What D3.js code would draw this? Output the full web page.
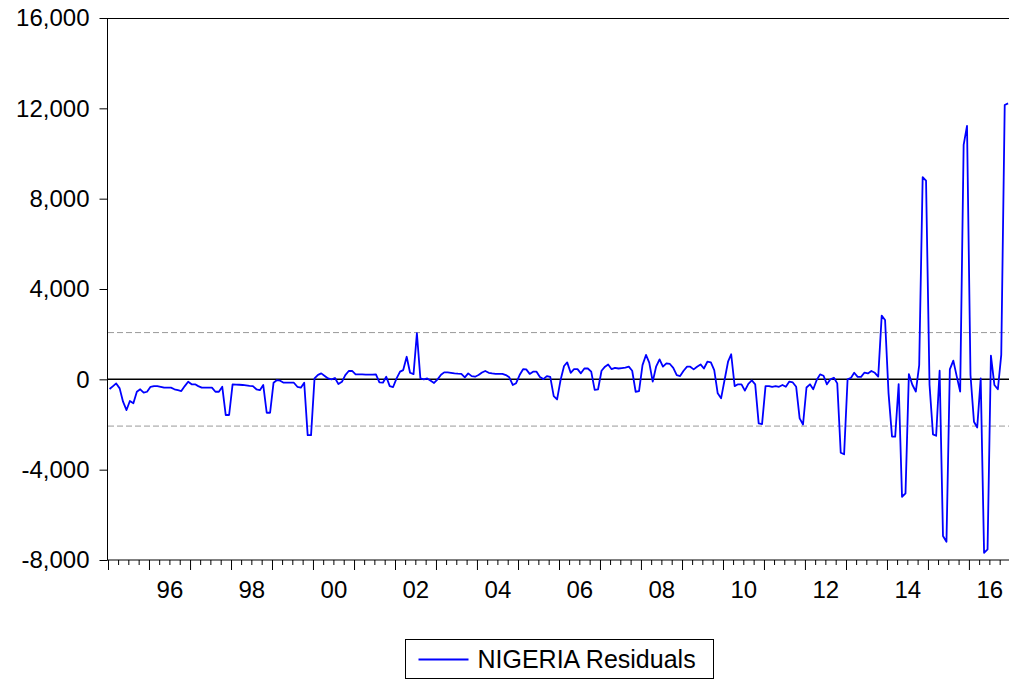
<!DOCTYPE html>
<html lang="en">

<head>
    <meta charset="UTF-8">
    <script src="https://cdnjs.cloudflare.com/ajax/libs/d3/7.8.5/d3.min.js" type="text/JavaScript"></script>
    <title>NIGERIA Residuals</title>
    <style>
        body { margin: 0; background: #fff; }
        svg { display: block; font-family: "Liberation Sans", Arial, Helvetica, sans-serif; }
    </style>
</head>

<body>
    <svg width="1009" height="679"></svg>
    <script>

        // monthly residuals, 1995M01 .. 2016M12
        var startYear = 1995;
        var residuals = [
            -430, -300, -180, -400, -990, -1360, -960, -1060, -550, -440, -590, -550,
            -330, -300, -300, -330, -370, -370, -370, -440, -480, -520, -300, -105,
            -220, -220, -300, -370, -370, -370, -370, -550, -550, -330, -1580, -1580,
            -220, -230, -240, -250, -270, -290, -300, -440, -480, -250, -1480, -1480,
            -150, -30, -60, -150, -150, -150, -150, -330, -370, -150, -2470, -2470,
            40, 200, 265, 150, 40, 0, 60, -210, -110, 190, 370, 370,
            220, 220, 220, 210, 210, 210, 220, -130, -150, 115, -300, -340,
            40, 340, 410, 1000, 290, 230, 2040, 40, 0, 40, -60, -160,
            0, 200, 310, 310, 290, 265, 250, 240, 90, 265, 140, 115,
            190, 300, 370, 290, 260, 240, 240, 240, 190, 90, -250, -170,
            190, 450, 440, 240, 340, 340, 100, 10, 145, 110, -740, -890,
            -30, 590, 750, 290, 450, 450, 265, 480, 480, 340, -470, -440,
            380, 560, 660, 450, 510, 480, 500, 520, 560, 380, -550, -520,
            630, 1080, 740, -100, 560, 885, 560, 710, 680, 510, 190, 145,
            380, 560, 560, 440, 560, 660, 480, 780, 750, 410, -620, -840,
            -30, 780, 1110, -300, -220, -220, -500, -200, -50, -220, -1950, -1980,
            -300, -300, -330, -300, -330, -250, -330, -100, -140, -330, -1730, -2000,
            -360, -220, -440, -30, 220, 160, -220, 0, 70, -180, -3250, -3320,
            0, 70, 290, 110, 110, 300, 260, 370, 290, 120, 2820, 2630,
            -620, -2540, -2540, -210, -5200, -5050, 230, -240, -540, 630, 8950, 8800,
            -240, -2440, -2500, 380, -6940, -7190, 440, 830, 120, -540, 10380, 11220,
            190, -1880, -2130, 40, -7680, -7530, 1050, -250, -440, 1080, 12150, 12220
        ];
        var yTicks = [-8000, -4000, 0, 4000, 8000, 12000, 16000];
        var bandLevel = 2070;   // +/- dashed band
        var yearLabels = [1996, 1998, 2000, 2002, 2004, 2006, 2008, 2010, 2012, 2014, 2016];
        var legendText = "NIGERIA Residuals";

        var svg = d3.select("svg");

        var xScale = d3.scaleTime()
            .domain([new Date(startYear, 0, 1), new Date(2017, 0, 1)])
            .range([108, 1010]);
        var yScale = d3.scaleLinear().domain([-8000, 16000]).range([560, 18]);

        var data = residuals.map((v, i) => ({ date: new Date(startYear, i, 15), value: v }));

        // frame
        svg.append("rect")
            .attr("x", 107.5).attr("y", 18.5)
            .attr("width", 1010 - 107.5).attr("height", 560 - 18.5)
            .attr("fill", "none").attr("stroke", "#000").attr("stroke-width", 1);

        // dashed band and zero line
        svg.selectAll("line.band")
            .data([bandLevel, -bandLevel])
            .enter()
            .append("line")
            .attr("class", "band")
            .attr("x1", 108).attr("x2", 1010)
            .attr("y1", d => yScale(d)).attr("y2", d => yScale(d))
            .attr("stroke", "#9a9a9a").attr("stroke-width", 1)
            .attr("stroke-dasharray", "6,3");

        svg.append("line")
            .attr("x1", 108).attr("x2", 1010)
            .attr("y1", yScale(0)).attr("y2", yScale(0))
            .attr("stroke", "#000").attr("stroke-width", 1.5);

        // y axis (plain hyphen for minus, like the original)
        var fmt = d3.format(",");
        var yAxis = d3.axisLeft(yScale)
            .tickValues(yTicks)
            .tickSize(8)
            .tickPadding(10)
            .tickFormat(d => fmt(d).replace("\u2212", "-"));
        var yG = svg.append("g").attr("transform", "translate(107.5,0)").call(yAxis);
        yG.select(".domain").remove();

        // x axis: year ticks, quarter ticks, labels mid-year
        var years = d3.range(startYear, 2017).map(y => new Date(y, 0, 1));
        var quarters = [];
        years.forEach(d => [3, 6, 9].forEach(m => quarters.push(new Date(d.getFullYear(), m, 1))));

        var xMajor = d3.axisBottom(xScale).tickValues(years).tickSize(10).tickFormat("");
        var xMinor = d3.axisBottom(xScale).tickValues(quarters).tickSize(5).tickFormat("");
        var xLabels = d3.axisBottom(xScale)
            .tickValues(yearLabels.map(y => new Date(y, 6, 1)))
            .tickSize(0)
            .tickPadding(21)
            .tickFormat(d => d3.timeFormat("%y")(d));

        [xMajor, xMinor, xLabels].forEach(ax => {
            var g = svg.append("g").attr("transform", "translate(0,560)").call(ax);
            g.select(".domain").remove();
        });
        svg.selectAll(".tick text").style("font-size", "24px").attr("fill", "#000");

        // residual line
        var line = d3.line()
            .x(d => xScale(d.date))
            .y(d => yScale(d.value));

        svg.append("path")
            .datum(data)
            .attr("d", line)
            .attr("fill", "none")
            .attr("stroke", "#0000ff")
            .attr("stroke-width", 1.8)
            .attr("stroke-linejoin", "round");

        // legend
        var legend = svg.append("g").attr("transform", "translate(405.5,639.5)");
        legend.append("rect")
            .attr("width", 308).attr("height", 39)
            .attr("fill", "#fff").attr("stroke", "#000").attr("stroke-width", 1);
        legend.append("line")
            .attr("x1", 13).attr("x2", 63).attr("y1", 20).attr("y2", 20)
            .attr("stroke", "#0000ff").attr("stroke-width", 1.8);
        legend.append("text")
            .attr("x", 72).attr("y", 28.5)
            .style("font-size", "25px")
            .text(legendText);

    </script>
</body>

</html>
